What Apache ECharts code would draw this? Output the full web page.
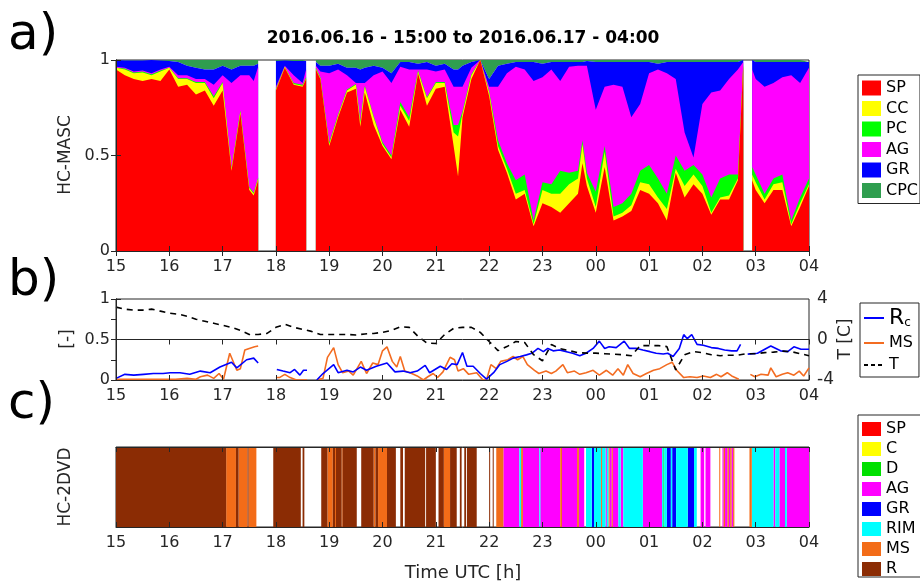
<!DOCTYPE html>
<html>
<head>
<meta charset="utf-8">
<title>HC-MASC / HC-2DVD 2016.06.16-17</title>
<script src="https://cdn.jsdelivr.net/npm/echarts@6/dist/echarts.min.js"></script>
<style>
html, body { margin: 0; padding: 0; background: #fff; }
#chart { width: 920px; height: 583px; }
</style>
</head>
<body>
<div id="chart"></div>
<script>
'use strict';

// time in minutes after 2016.06.16 15:00 UTC
var tA = [
	0, 10, 20, 30, 40, 50, 60, 70, 80, 90,
	100, 110, 120, 130, 140, 150, 155, 160, 170, 180,
	190, 200, 210, 214, 220, 225, 230, 240, 250, 260,
	270, 275, 280, 290, 300, 310, 320, 330, 340, 350,
	360, 370, 380, 385, 390, 400, 410, 420, 430, 440,
	450, 460, 470, 480, 490, 500, 510, 520, 525, 530,
	540, 550, 560, 570, 580, 590, 600, 610, 620, 630,
	640, 650, 660, 670, 680, 690, 700, 706, 710, 716,
	720, 730, 740, 750, 760, 770, 780
];

// HC-MASC: upper edge of each class in the stacked fraction (null = no data)
// CPC fills the rest up to 1
var spTop = [
	.95, .92, .90, .89, .90, .89, .95, .86, .87, .82,
	.84, .76, .84, .42, .72, .32, .29, .37, null, .84,
	.96, .87, .86, .90, null, .95, .90, .55, .70, .83,
	.85, .65, .83, .66, .55, .48, .74, .65, .93, .76,
	.85, .86, .55, .39, .70, .90, 1, .81, .53, .41,
	.27, .30, .13, .25, .23, .20, .25, .30, .46, .34,
	.20, .44, .16, .18, .21, .32, .30, .25, .16, .41,
	.28, .35, .30, .19, .27, .27, .37, .97, null, .37,
	.32, .25, .32, .32, .13, .23, .34
];
var ccTop = [
	.96, .95, .93, .935, .92, .94, .96, .90, .90, .88,
	.88, .80, .88, .43, .73, .33, .30, .38, null, .845,
	.965, .875, .865, .905, null, .955, .905, .56, .71, .84,
	.87, .67, .86, .70, .56, .49, .76, .68, .94, .80,
	.88, .88, .62, .60, .72, .92, 1, .83, .55, .43,
	.30, .32, .14, .32, .30, .30, .35, .38, .56, .38,
	.23, .52, .18, .20, .24, .36, .35, .28, .22, .43,
	.34, .40, .34, .20, .28, .29, .38, .975, null, .40,
	.36, .27, .35, .36, .14, .25, .35
];
var pcTop = [
	.96, .955, .935, .94, .925, .945, .96, .905, .905, .885,
	.885, .81, .885, .435, .735, .335, .305, .385, null, .85,
	.965, .88, .87, .91, null, .96, .91, .57, .715, .845,
	.875, .68, .865, .705, .57, .50, .78, .70, .945, .805,
	.885, .885, .66, .66, .73, .925, 1, .835, .58, .46,
	.37, .40, .16, .36, .35, .42, .41, .42, .58, .41,
	.31, .55, .23, .25, .30, .42, .45, .38, .30, .50,
	.42, .45, .40, .28, .38, .40, .40, .98, null, .44,
	.40, .30, .38, .40, .16, .28, .38
];
var agTop = [
	.965, .96, .94, .945, .93, .95, .965, .92, .92, .90,
	.90, .87, .92, .88, .92, .92, .89, .965, null, .86,
	.97, .92, .88, .95, null, .97, .94, .93, .95, .92,
	.88, .88, .88, .92, .94, .88, .965, .95, .95, .95,
	.94, .95, .86, .86, .86, .96, 1, .86, .86, .93,
	.965, .95, .89, .91, .95, .89, .965, .97, .97, .97,
	.74, .86, .87, .86, .70, .77, .93, .95, .93, .90,
	.62, .49, .77, .83, .84, .90, .95, .99, null, .95,
	.90, .86, .88, .91, .92, .88, .96
];
var grTop = [
	1, .998, .998, .998, 1, .998, .995, .99, .97, .96,
	.95, .95, .97, .95, .97, .97, .97, .98, null, .995,
	.998, .995, .995, .995, null, .99, .97, .97, .98, .96,
	.96, .95, .96, .97, .96, .93, .99, .99, .98, .99,
	.97, .98, .95, .95, .97, .99, 1, .90, .97, .98,
	.99, .99, .99, .98, .99, .99, .99, .99, .99, .995,
	.99, .99, .99, .99, .99, .99, .99, .98, .99, .99,
	.99, .99, .99, .99, .99, .99, .99, 1, null, 1,
	.99, .99, .99, .99, .99, .99, .99
];

// [minute, value]
var rcData = [
	[0, .02], [10, .07], [20, .06], [31, .07], [42, .08], [53, .08], [61, .09], [72, .09], [83, .07], [95, .11],
	[106, .09], [117, .16], [130, .22], [136, .15], [147, .25], [155, .27], [160, .21], [170, null],
	[181, .13], [188, .11], [196, .09], [201, .13], [207, .06], [211, .12], [215, .12], [220, null],
	[226, 0], [233, .08], [245, .19], [250, .09], [260, .12], [267, .10], [275, .16], [282, .12], [293, .17], [305, .21],
	[314, .10], [323, .11], [331, .09], [339, .11], [348, .18], [353, .09], [365, .17], [372, .13], [378, .20], [384, .19],
	[390, .34], [395, .17], [402, .17], [410, .08], [417, .01], [425, .09], [432, .19], [440, .23], [447, .27], [455, .29],
	[462, .31], [468, .33], [475, .39], [481, .35], [486, .39], [492, .36], [499, .37], [507, .35], [514, .33], [522, .30],
	[529, .33], [537, .39], [544, .48], [550, .39], [555, .41], [563, .40], [572, .48], [578, .39], [586, .39], [593, .37],
	[601, .35], [608, .33], [616, .32], [621, .33], [627, .29], [634, .39], [639, .56], [643, .51], [648, .56], [654, .44],
	[661, .43], [670, .40], [678, .39], [685, .37], [693, .36], [699, .36], [703, .44], [707, null],
	[711, .32], [722, .33], [737, .42], [748, .36], [756, .35], [763, .41], [771, .38], [780, .38]
];
var msData = [
	[0, .01], [20, .01], [34, .01], [50, .01], [67, .01], [80, .02], [90, .01], [95, .04], [103, .06], [110, .02],
	[116, .08], [121, .01], [128, .33], [136, .12], [140, .14], [145, .37], [150, .39], [156, .41], [160, .42], [170, null],
	[180, .03], [184, .03], [190, .07], [196, .03], [203, 0], [215, 0], [220, null],
	[226, 0], [233, .02], [238, .28], [245, .40], [250, .19], [255, .09], [262, .11], [267, .06], [276, .23], [282, .08],
	[289, .21], [295, .19], [300, .36], [305, .41], [311, .23], [316, .16], [320, .29], [325, .11], [331, .09], [339, .05],
	[346, 0], [351, .04], [357, .08], [362, .03], [368, .10], [376, .28], [381, .25], [385, .11], [391, .14], [397, .07],
	[406, .09], [413, 0], [417, 0], [422, .19], [428, .14], [433, .23], [441, .25], [447, .29], [452, .25], [458, .29],
	[463, .19], [471, .12], [476, .08], [484, .11], [490, .08], [495, .11], [503, .19], [508, .09], [516, .11], [522, .07],
	[529, .09], [537, .12], [544, .06], [552, .12], [559, .06], [565, .14], [571, .06], [576, .19], [582, .08], [590, .04],
	[597, .08], [605, .12], [612, .14], [620, .19], [626, .22], [631, .12], [639, .03], [646, .04], [654, .03], [661, .05],
	[669, .03], [676, .07], [681, .04], [688, .09], [693, .05], [701, .01], [707, null],
	[714, .07], [719, .04], [726, .07], [734, .06], [737, .15], [743, .04], [750, .07], [756, .09], [763, .06], [769, .11],
	[774, .05], [780, .15]
];
// temperature [C], every 10 min
var tempData = [
	[0, 3.2], [10, 3.0], [20, 2.9], [30, 2.9], [40, 3.0], [50, 2.8], [60, 2.6], [70, 2.5], [80, 2.3], [90, 2.0],
	[100, 1.8], [110, 1.6], [120, 1.4], [130, 1.2], [140, 0.9], [150, 0.5], [160, 0.5], [170, 0.6], [180, 1.2], [190, 1.5],
	[200, 1.2], [210, 1.0], [220, 0.8], [230, 0.5], [240, 0.5], [250, 0.5], [260, 0.5], [270, 0.45], [280, 0.55], [290, 0.6],
	[300, 0.7], [310, 0.9], [320, 1.25], [330, 1.2], [340, 0.3], [350, -0.35], [360, -0.4], [370, 0.5], [380, 1.1], [390, 1.2],
	[400, 1.2], [410, 0.7], [420, -0.2], [430, -1.1], [440, -0.7], [450, -0.2], [460, -0.3], [470, -1.5], [480, -2.1], [490, -0.5],
	[500, -0.9], [510, -1.1], [520, -1.3], [530, -1.35], [540, -1.35], [550, -1.4], [560, -1.45], [570, -1.5], [580, -1.6], [590, -0.6],
	[600, -0.6], [610, -0.6], [620, -0.7], [630, -3.0], [640, -1.5], [650, -1.2], [660, -1.3], [670, -1.5], [680, -1.6], [690, -1.55],
	[700, -1.55], [710, -1.4], [720, -1.4], [730, -1.3], [740, -1.25], [750, -1.15], [760, -1.2], [770, -1.4], [780, -1.6]
];

// HC-2DVD classification: [start min, end min, class]
var dvdSegments = [
	[0, 124, 'R'], [124, 135, 'MS'], [135, 138, 'R'], [138, 148, 'MS'], [148, 149, 'R'], [149, 158, 'MS'],
	[177, 208, 'R'], [210, 212, 'R'], [231, 238, 'R'], [238, 244, 'MS'], [244, 246.5, 'R'], [246.5, 247.5, 'MS'],
	[247.5, 254, 'R'], [254, 255, 'MS'], [255, 271, 'R'], [276, 290, 'R'], [290, 292, 'MS'], [292, 295, 'R'],
	[295, 305, 'MS'], [305, 315, 'R'], [320, 323, 'R'], [325, 348, 'R'], [349, 360, 'R'], [363, 369, 'R'],
	[369, 376, 'MS'], [376, 383.5, 'R'], [387, 389, 'R'], [392, 394, 'R'], [395, 406, 'R'], [420, 421, 'R'],
	[424, 425, 'R'], [428, 436, 'MS'], [436, 454, 'AG'], [454, 456, 'RIM'], [456, 458, 'MS'], [458, 476.5, 'AG'],
	[476.5, 477.5, 'RIM'], [477.5, 500, 'AG'], [500, 502, 'MS'], [502, 519, 'AG'], [519, 521, 'MS'], [521, 527, 'AG'],
	[529, 535.5, 'RIM'], [535.5, 538, 'GR'], [538, 546, 'RIM'], [546, 547, 'MS'], [547, 551, 'RIM'], [551, 552.5, 'AG'],
	[552.5, 554.5, 'RIM'], [554.5, 555.5, 'MS'], [555.5, 558, 'AG'], [558, 559, 'MS'], [559, 565.5, 'AG'], [565.5, 568, 'RIM'],
	[568, 571, 'AG'], [571, 593, 'RIM'], [593, 614.6, 'AG'], [614.6, 616, 'RIM'], [616, 617, 'D'], [617, 620, 'RIM'],
	[620, 624.5, 'GR'], [624.5, 626, 'RIM'], [626, 630.4, 'GR'], [630.4, 643.5, 'RIM'], [643.5, 650.6, 'GR'], [650.6, 653.7, 'RIM'],
	[658, 662, 'AG'], [663.5, 669, 'AG'], [679, 680, 'MS'], [682.6, 684, 'AG'], [684, 685.5, 'MS'], [685.5, 688.3, 'AG'],
	[688.3, 689.8, 'MS'], [689.8, 691.3, 'AG'], [691.3, 692.8, 'MS'], [692.8, 694.6, 'AG'], [694.6, 696, 'MS'],
	[713, 715.6, 'MS'], [715.6, 740, 'RIM'], [740, 742, 'AG'], [742, 746.7, 'RIM'], [746.7, 753, 'AG'], [753, 755, 'RIM'],
	[755, 780, 'AG']
];

var mascClasses = ['SP', 'CC', 'PC', 'AG', 'GR', 'CPC'];
var mascColors = ['#ff0000', '#ffff00', '#00ff00', '#ff00ff', '#0000ff', '#2f9e4f'];
var dvdClasses = ['SP', 'C', 'D', 'AG', 'GR', 'RIM', 'MS', 'R'];
var dvdColors = ['#ff0000', '#ffff00', '#00e000', '#ff00ff', '#0000ff', '#00ffff', '#f36c18', '#8b2c04'];

var FONT = '"DejaVu Sans", Verdana, sans-serif';
var AX = '#262626';

var myChart = echarts.init(document.getElementById('chart'), null, {renderer: 'canvas'});

function hourLabel(v) {
	var h = (15 + Math.round(v / 60)) % 24;
	return (h < 10 ? '0' : '') + h;
}

function xAxisFor(grid, pos) {
	return {
		type: 'value', gridIndex: grid, position: pos, min: 0, max: 780, interval: 60, z: 10,
		axisLine: {show: true, lineStyle: {color: AX, width: 1}},
		axisTick: {show: true, inside: true, length: 5, lineStyle: {color: AX}},
		axisLabel: {show: pos === 'bottom', formatter: hourLabel, color: AX, fontSize: 16, fontFamily: FONT, margin: 8},
		splitLine: {show: false}
	};
}

function pairs(vals) {
	return tA.map(function(t, i) {
		return [t, vals[i] === null ? '-' : vals[i]];
	});
}

var series = [];
// CPC: the band between the GR edge and the top of the axis
series.push({
	name: 'CPC', type: 'line', xAxisIndex: 0, yAxisIndex: 0, data: pairs(grTop), symbol: 'none',
	lineStyle: {width: 0}, itemStyle: {color: mascColors[5]},
	areaStyle: {color: mascColors[5], opacity: 1, origin: 'end'}, animation: false
});
// the other classes fill down to 0; the lower class is drawn later, on top
var mascTops = [spTop, ccTop, pcTop, agTop, grTop];
for (var k = 4; k >= 0; k--) {
	series.push({
		name: mascClasses[k], type: 'line', xAxisIndex: 0, yAxisIndex: 0,
		data: pairs(mascTops[k]), symbol: 'none',
		lineStyle: {width: 0}, itemStyle: {color: mascColors[k]},
		areaStyle: {color: mascColors[k], opacity: 1, origin: 'start'}, animation: false
	});
}

series.push({
	name: 'Rc', type: 'line', xAxisIndex: 2, yAxisIndex: 2, data: rcData, symbol: 'none',
	lineStyle: {width: 1.6, color: '#0000ff'}, itemStyle: {color: '#0000ff'}, z: 4, animation: false
});
series.push({
	name: 'MS', type: 'line', xAxisIndex: 2, yAxisIndex: 2, data: msData, symbol: 'none',
	lineStyle: {width: 1.6, color: '#f36c21'}, itemStyle: {color: '#f36c21'}, z: 3, animation: false
});
series.push({
	name: 'T', type: 'line', xAxisIndex: 2, yAxisIndex: 3, data: tempData, symbol: 'none',
	lineStyle: {width: 1.6, color: '#000', type: [6, 5]}, itemStyle: {color: '#000'}, z: 5, animation: false
});

function renderSeg(params, api) {
	var s = api.coord([api.value(0), 0]);
	var e = api.coord([api.value(1), 1]);
	return {
		type: 'rect',
		shape: {x: s[0], y: e[1], width: Math.max(e[0] - s[0], 1), height: s[1] - e[1]},
		style: {fill: api.visual('color')}
	};
}

dvdClasses.forEach(function(cls, i) {
	// trailing space keeps these legend entries apart from the panel a / b series
	series.push({
		name: cls + ' ', type: 'custom', xAxisIndex: 4, yAxisIndex: 4,
		renderItem: renderSeg, encode: {x: [0, 1]}, itemStyle: {color: dvdColors[i]},
		data: dvdSegments.filter(function(s) { return s[2] === cls; }).map(function(s) { return [s[0], s[1]]; }),
		silent: true, animation: false
	});
});

var option = {
	backgroundColor: '#fff',
	animation: false,
	grid: [
		{left: 116, top: 60, width: 693, height: 191, show: true, borderColor: AX, borderWidth: 1},
		{left: 116, top: 299, width: 693, height: 81, show: true, borderColor: AX, borderWidth: 1},
		{left: 116, top: 447, width: 693, height: 80, show: true, borderColor: AX, borderWidth: 1}
	],
	xAxis: [
		xAxisFor(0, 'bottom'), xAxisFor(0, 'top'),
		xAxisFor(1, 'bottom'), xAxisFor(1, 'top'),
		xAxisFor(2, 'bottom'), xAxisFor(2, 'top')
	],
	yAxis: [
		{
			type: 'value', gridIndex: 0, min: 0, max: 1, interval: 0.5, z: 10,
			axisLine: {show: true, lineStyle: {color: AX}},
			axisTick: {show: true, inside: true, length: 5, lineStyle: {color: AX}},
			axisLabel: {color: AX, fontSize: 16, fontFamily: FONT, margin: 6},
			splitLine: {show: false}
		},
		{
			type: 'value', gridIndex: 0, position: 'right', min: 0, max: 1, interval: 0.5, z: 10,
			axisLine: {show: true, lineStyle: {color: AX}},
			axisTick: {show: true, inside: true, length: 5, lineStyle: {color: AX}},
			axisLabel: {show: false}, splitLine: {show: false}
		},
		{
			type: 'value', gridIndex: 1, min: 0, max: 1, interval: 0.5, z: 10,
			axisLine: {show: true, lineStyle: {color: AX}},
			axisTick: {show: true, inside: true, length: 5, lineStyle: {color: AX}},
			axisLabel: {color: AX, fontSize: 16, fontFamily: FONT, margin: 6},
			splitLine: {show: false}
		},
		{
			type: 'value', gridIndex: 1, position: 'right', min: -4, max: 4, interval: 2, z: 10,
			axisLine: {show: true, lineStyle: {color: AX}},
			axisTick: {show: true, inside: true, length: 5, lineStyle: {color: AX}},
			axisLabel: {
				color: AX, fontSize: 17, fontFamily: FONT, margin: 8,
				formatter: function(v) { return v % 4 === 0 ? String(v) : ''; }
			},
			splitLine: {show: false}
		},
		{
			type: 'value', gridIndex: 2, min: 0, max: 1, show: false
		}
	],
	legend: [
		{
			data: mascClasses, left: 858, top: 75, orient: 'vertical', icon: 'rect',
			itemWidth: 19, itemHeight: 15, itemGap: 4.5, padding: [5, 2, 5, 4],
			borderColor: AX, borderWidth: 1, selectedMode: false,
			textStyle: {color: '#000', fontSize: 16, fontFamily: FONT}
		},
		{
			data: ['Rc', 'MS', {name: 'T', lineStyle: {type: [4, 3]}}],
			left: 860, top: 303, orient: 'vertical',
			itemWidth: 20, itemHeight: 10, itemGap: 6, padding: [4, 6, 4, 3],
			itemStyle: {opacity: 0},
			borderColor: AX, borderWidth: 1, selectedMode: false,
			formatter: function(name) { return name === 'Rc' ? '{big|R}{sub|c}' : name; },
			textStyle: {
				color: '#000', fontSize: 16, fontFamily: FONT,
				rich: {
					big: {fontSize: 22, fontFamily: FONT, color: '#000'},
					sub: {fontSize: 12, fontFamily: FONT, color: '#000', padding: [10, 0, 0, 0]}
				}
			}
		},
		{
			data: dvdClasses.map(function(c) { return c + ' '; }), left: 858, top: 415, bottom: -40, orient: 'vertical', icon: 'rect',
			itemWidth: 19, itemHeight: 14, itemGap: 4, padding: [6, 2, 0, 4],
			borderColor: AX, borderWidth: 1, selectedMode: false,
			textStyle: {color: '#000', fontSize: 16, fontFamily: FONT}
		}
	],
	graphic: [
		{type: 'text', x: 463, y: 39, style: {text: '2016.06.16 - 15:00 to 2016.06.17 - 04:00', font: 'bold 17px ' + FONT, fill: '#000', align: 'center', verticalAlign: 'middle'}},
		{type: 'text', x: 8, y: 36, style: {text: 'a)', font: '50px ' + FONT, fill: '#000', verticalAlign: 'middle'}},
		{type: 'text', x: 8, y: 282, style: {text: 'b)', font: '50px ' + FONT, fill: '#000', verticalAlign: 'middle'}},
		{type: 'text', x: 8, y: 405, style: {text: 'c)', font: '50px ' + FONT, fill: '#000', verticalAlign: 'middle'}},
		{type: 'text', x: 66, y: 155, rotation: Math.PI / 2, style: {text: 'HC-MASC', font: '17px ' + FONT, fill: AX, align: 'center', verticalAlign: 'middle'}},
		{type: 'text', x: 68, y: 339, rotation: Math.PI / 2, style: {text: '[-]', font: '17px ' + FONT, fill: AX, align: 'center', verticalAlign: 'middle'}},
		{type: 'text', x: 846, y: 339, rotation: Math.PI / 2, style: {text: 'T [C]', font: '17px ' + FONT, fill: AX, align: 'center', verticalAlign: 'middle'}},
		{type: 'text', x: 66, y: 487, rotation: Math.PI / 2, style: {text: 'HC-2DVD', font: '17px ' + FONT, fill: AX, align: 'center', verticalAlign: 'middle'}},
		{type: 'text', x: 463, y: 573, style: {text: 'Time UTC [h]', font: '18px ' + FONT, fill: AX, align: 'center', verticalAlign: 'middle'}}
	],
	series: series
};

myChart.setOption(option);
</script>
</body>
</html>
